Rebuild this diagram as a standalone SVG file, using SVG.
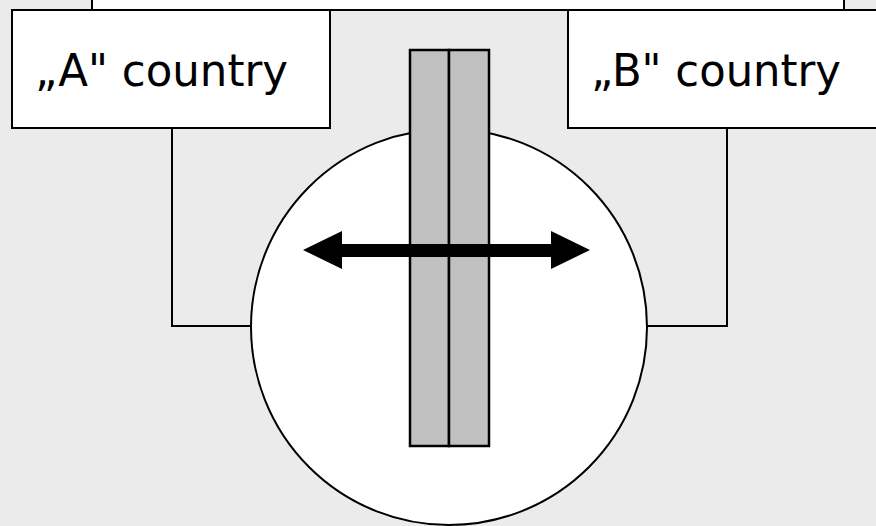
<svg xmlns="http://www.w3.org/2000/svg" width="876" height="526" viewBox="0 0 876 526">
<style>
.box{fill:#fff;stroke:#000;stroke-width:2}
.lbl{font-family:"DejaVu Sans","Liberation Sans",sans-serif;font-size:44px;fill:#000}
.wire{fill:none;stroke:#000;stroke-width:2}
.bar{fill:#c0c0c0;stroke:#000;stroke-width:2.5}
</style>
<rect x="0" y="0" width="876" height="526" fill="#ebebeb"/>
<g id="top-box"><rect class="box" x="92" y="-10" width="752" height="20"/></g>
<g id="connectors">
<polyline class="wire" points="172,128 172,326 251,326"/>
<polyline class="wire" points="727,128 727,326 647,326"/>
</g>
<g id="circle"><circle cx="449" cy="327" r="198" fill="#fff" stroke="#000" stroke-width="2"/></g>
<g id="country-a"><rect class="box" x="12" y="10" width="318" height="118"/><text class="lbl" x="35" y="86" textLength="253" lengthAdjust="spacingAndGlyphs">„A" country</text></g>
<g id="country-b"><rect class="box" x="568" y="10" width="320" height="118"/><text class="lbl" x="591" y="86" textLength="250" lengthAdjust="spacingAndGlyphs">„B" country</text></g>
<g id="border">
<rect class="bar" x="410" y="50" width="39" height="396"/>
<rect class="bar" x="449" y="50" width="40" height="396"/>
</g>
<g id="arrow"><polygon points="303,250 342,231 342,244 551,244 551,231 590,250 551,269 551,257 342,257 342,269" fill="#000"/></g>
</svg>
